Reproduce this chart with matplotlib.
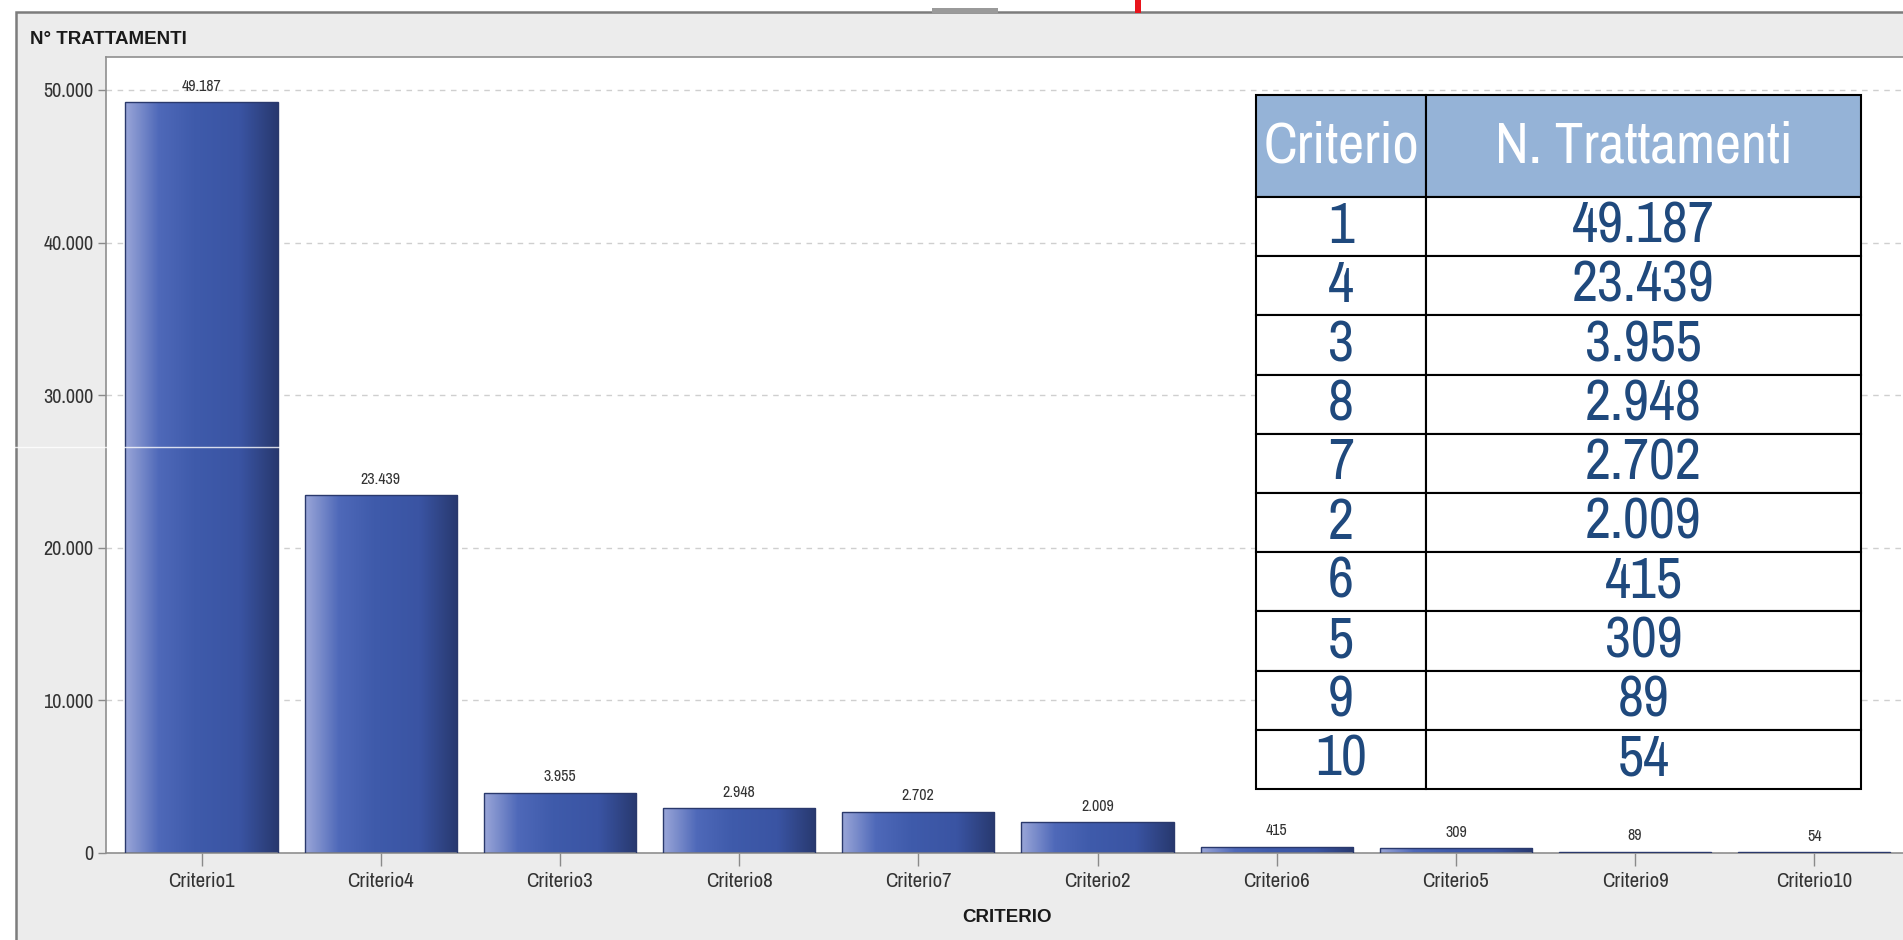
import numpy as np
import matplotlib
matplotlib.use('Agg')
import matplotlib.pyplot as plt
from matplotlib import font_manager
from matplotlib.colors import LinearSegmentedColormap
from matplotlib.patches import Rectangle

# data
criteri = ['Criterio1', 'Criterio4', 'Criterio3', 'Criterio8', 'Criterio7',
           'Criterio2', 'Criterio6', 'Criterio5', 'Criterio9', 'Criterio10']
trattamenti = [49187, 23439, 3955, 2948, 2702, 2009, 415, 309, 89, 54]
num_criterio = [1, 4, 3, 8, 7, 2, 6, 5, 9, 10]
yticks = [0, 10000, 20000, 30000, 40000, 50000]

names = {f.name for f in font_manager.fontManager.ttflist}


def pick(*cands):
    for c in cands:
        if c in names:
            return c
    return 'DejaVu Sans'


narrow = pick('Liberation Sans Narrow', 'Archivo Narrow', 'Asap Condensed', 'Liberation Sans')
plt.rcParams['font.family'] = [narrow, 'DejaVu Sans']


def it_fmt(v):
    return '{:,.0f}'.format(v).replace(',', '.')


W, H = 1903, 940
fig = plt.figure(figsize=(W / 100, H / 100), dpi=100, facecolor='white')

# grey panel frame
fig.patches.append(Rectangle((16 / W, -0.05), 1.0, 1 - 12 / H + 0.05, transform=fig.transFigure,
                             facecolor='#ececec', edgecolor='#7c7c7c', linewidth=1.8, zorder=-5))
fig.patches.append(Rectangle((1135 / W, 1 - 13 / H), 6 / W, 13 / H, transform=fig.transFigure,
                             facecolor='#e8141c', edgecolor='none', zorder=-4))
fig.patches.append(Rectangle((932 / W, 1 - 13 / H), 66 / W, 5 / H, transform=fig.transFigure,
                             facecolor='#9a9a9a', edgecolor='none', zorder=-4))

ax = fig.add_axes([106 / W, 1 - 853 / H, 1 - 106 / W, (853 - 57) / H])
ax.set_facecolor('white')

x = np.arange(len(criteri))
bars = ax.bar(x, trattamenti, width=0.85, color='none', edgecolor='#2a396c', linewidth=1.0, zorder=3)

grad = LinearSegmentedColormap.from_list('barra', [(0.0, '#9aa6d8'), (0.22, '#4f69b9'),
                                                   (0.45, '#3f5bab'), (0.75, '#3a54a3'),
                                                   (1.0, '#28396f')])
for b in bars:
    x0, y0, w, h = b.get_x(), b.get_y(), b.get_width(), b.get_height()
    im = ax.imshow(np.linspace(0, 1, 256)[None, :], cmap=grad, aspect='auto',
                   extent=(x0, x0 + w, y0, y0 + h), zorder=2, interpolation='bilinear')
    im.set_clip_path(b)

for xi, v in zip(x, trattamenti):
    ax.annotate(it_fmt(v), (xi, v), xytext=(0, 6), textcoords='offset points',
                ha='center', va='bottom', fontsize=11.5, color='#333333')

ax.set_xlim(-0.533, 9.495)
ax.set_ylim(0, 52160)
ax.set_xticks(x)
ax.set_xticklabels(criteri, fontsize=15, color='#333333')
ax.set_yticks(yticks)
ax.set_yticklabels([it_fmt(v) for v in yticks], fontsize=14.5, color='#333333')
ax.tick_params(axis='x', length=9, width=1, color='#8a8a8a', pad=5)
ax.tick_params(axis='y', length=6, width=1, color='#8a8a8a', pad=3)
ax.grid(axis='y', color='#cfcfcf', linestyle=(0, (4, 4)), linewidth=1.0, zorder=0)
ax.set_axisbelow(True)
for s in ['left', 'top', 'bottom']:
    ax.spines[s].set_color('#8f8f8f')
    ax.spines[s].set_linewidth(1.2)
ax.spines['right'].set_visible(False)

fig.text(30 / W, 1 - 40 / H, 'N° TRATTAMENTI', fontsize=13.5, fontweight='bold',
         family=['Liberation Sans', 'DejaVu Sans'], ha='left', va='center', color='#1a1a1a')
fig.text(1007 / W, 1 - 917 / H, 'CRITERIO', fontsize=13.5, fontweight='bold',
         family=['Liberation Sans', 'DejaVu Sans'], ha='center', va='center', color='#1a1a1a')

# stray scan line of the screenshot
fig.add_artist(plt.Line2D([0, 1030 * 1.2137 / W], [1 - 447 / H, 1 - 447 / H], transform=fig.transFigure,
                          color='white', linewidth=1.0, alpha=0.8, zorder=10))

# overlay table
tax = fig.add_axes([1256 / W, 1 - 789 / H, (1861 - 1256) / W, (789 - 95) / H])
tax.axis('off')
cells = [[str(c), it_fmt(v)] for c, v in zip(num_criterio, trattamenti)]
tab = tax.table(cellText=cells, colLabels=['Criterio', 'N. Trattamenti'],
                colWidths=[170, 435], cellLoc='center', bbox=[0, 0, 1, 1])
tab.auto_set_font_size(False)
for (r, c), cell in tab.get_celld().items():
    cell.set_height(102 if r == 0 else 59.2)
    cell.set_edgecolor('black')
    cell.set_linewidth(1.5)
    t = cell.get_text()
    t.set_fontsize(41)
    if r == 0:
        cell.set_facecolor('#95b3d7')
        t.set_color('white')
    else:
        cell.set_facecolor('white')
        t.set_color('#1f497d')

fig.savefig('out.png', dpi=100, facecolor=fig.get_facecolor())
